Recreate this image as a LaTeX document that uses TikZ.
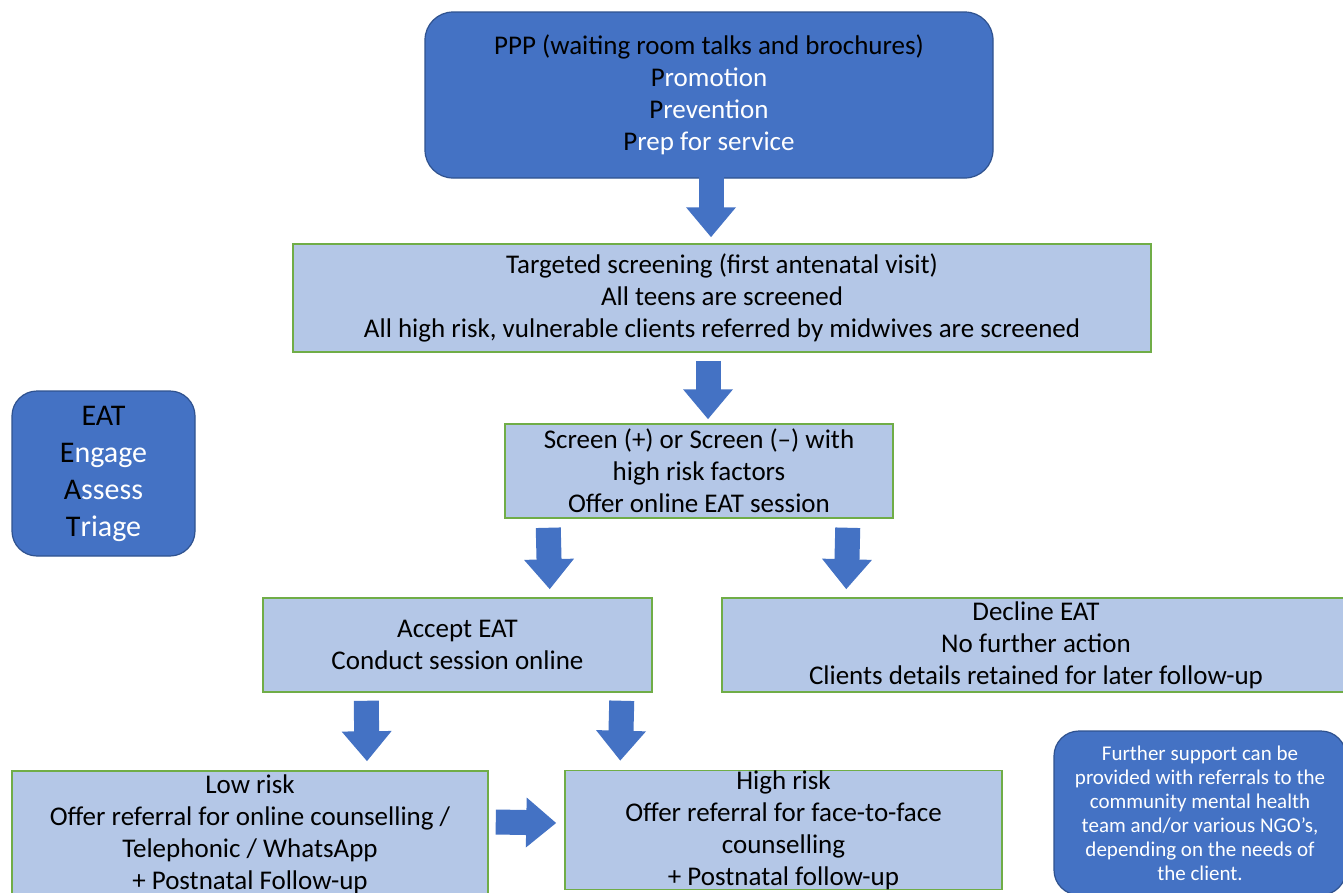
\documentclass[tikz,border=0pt]{standalone}
\usepackage{fontspec}
\setmainfont{Carlito}
\usetikzlibrary{arrows.meta,positioning,calc}
\definecolor{boxblue}{HTML}{4472C4}
\definecolor{edgeblue}{HTML}{2F528F}
\definecolor{paleblue}{HTML}{B4C7E7}
\definecolor{boxgreen}{HTML}{70AD47}
\tikzset{
  darkbox/.style={rounded corners=28pt,draw=edgeblue,fill=boxblue,line width=1.2pt,inner sep=0pt,align=center,text=white,font=\fontsize{27}{32}\selectfont},
  stepbox/.style={draw=boxgreen,fill=paleblue,line width=1.5pt,inner sep=0pt,align=center,font=\fontsize{27}{32}\selectfont},
  blkarrow/.style={boxblue,line width=25pt,-{Triangle[width=48pt,length=30pt]}}
}
\newcommand{\blk}[1]{\textcolor{black}{#1}}

\begin{document}
\begin{tikzpicture}[x=1pt,y=-1pt]
  \clip (0,0) rectangle (1343,892);
  \fill[white] (0,0) rectangle (1343,892);
  % boxes
  \node[darkbox,minimum width=568pt,minimum height=166pt] (ppp) at (709,95)
    {\blk{PPP (waiting room talks and brochures)}\\ \blk{P}romotion\\ \blk{P}revention\\ \blk{P}rep for service};
  \node[stepbox,minimum width=858pt,minimum height=108pt] (tgt) at (722,298)
    {Targeted screening (first antenatal visit)\\ All teens are screened\\ All high risk, vulnerable clients referred by midwives are screened};
  \node[stepbox,minimum width=388pt,minimum height=94pt] (scr) at (699,471)
    {Screen (+) or Screen ({\textendash}) with\\ high risk factors\\ Offer online EAT session};
  \node[stepbox,minimum width=389pt,minimum height=94pt] (acc) at (457.5,645)
    {Accept EAT\\ Conduct session online};
  \node[stepbox,minimum width=628pt,minimum height=94pt] (dec) at (1036,645)
    {Decline EAT\\ No further action\\ Clients details retained for later follow-up};
  \node[stepbox,minimum width=476pt,minimum height=127pt] (low) at (250,834.5)
    {Low risk\\ Offer referral for online counselling /\\ Telephonic / WhatsApp\\ + Postnatal Follow-up};
  \node[stepbox,minimum width=437pt,minimum height=118pt] (high) at (783.5,830)
    {High risk\\ Offer referral for face-to-face\\ counselling\\ + Postnatal follow-up};
  \node[darkbox,rounded corners=25pt,minimum width=183pt,minimum height=165pt,font=\fontsize{30}{37}\selectfont] (eat) at (103.5,473.5)
    {\blk{EAT}\\ \blk{E}ngage\\ \blk{A}ssess\\ \blk{T}riage};
  \node[darkbox,rounded corners=25pt,minimum width=292pt,minimum height=164pt,font=\fontsize{21}{24}\selectfont] (sup) at (1200,813)
    {Further support can be\\ provided with referrals to the\\ community mental health\\ team and/or various NGO’s,\\ depending on the needs of\\ the client.};
  % block arrows
  \draw[blkarrow] ($(ppp.south)+(2,-2)$) -- ($(tgt.north)+(-11,-6)$);
  \draw[blkarrow] ($(tgt.south)+(-14,8)$) -- ($(scr.north)+(9,-4)$);
  \draw[blkarrow] ($(scr.south west)+(44,9)$) -- ($(acc.north east)+(-103,-8)$);
  \draw[blkarrow] ($(scr.south east)+(-46,9)$) -- ($(dec.north west)+(125,-8)$);
  \draw[blkarrow] ($(acc.south west)+(104,8)$) -- ($(low.north)+(117,-9)$);
  \draw[blkarrow] ($(acc.south east)+(-31,8)$) -- ($(high.north west)+(56,-9)$);
  \draw[blkarrow] ($(low.east)+(7,-12.5)$) -- ($(high.west)+(-8,-7)$);
\end{tikzpicture}
\end{document}
